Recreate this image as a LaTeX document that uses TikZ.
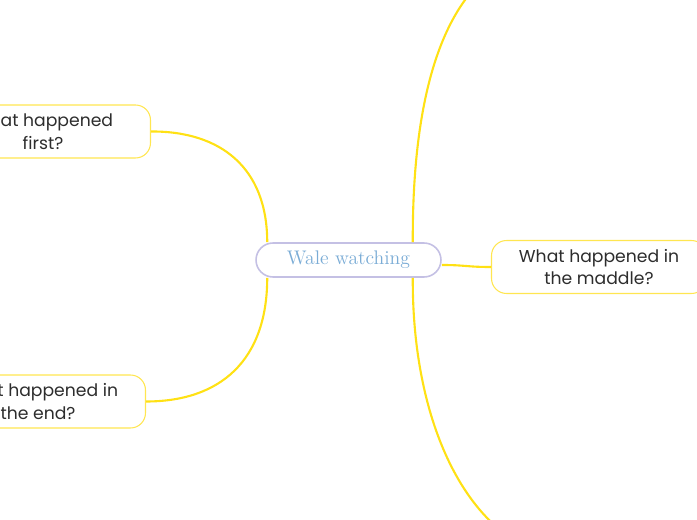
\documentclass[tikz,border=0pt]{standalone}
\usepackage{fontspec}
\newfontfamily\topicfont{Poppins}
\definecolor{branchyellow}{RGB}{255,225,20}
\definecolor{boxyellow}{RGB}{255,230,80}
\definecolor{rootborder}{RGB}{196,192,228}
\definecolor{roottext}{RGB}{122,172,214}
\definecolor{topictext}{RGB}{45,45,45}
\begin{document}
\begin{tikzpicture}[
    x=0.02cm, y=-0.02cm,
    root/.style={rectangle, draw=rootborder, line width=0.9pt, fill=white, rounded corners=0.34cm, minimum width=3.7cm, minimum height=0.68cm, inner sep=0pt, text=roottext, font=\fontsize{11.2}{12}\selectfont},
    topic/.style={rectangle, draw=boxyellow, line width=0.6pt, fill=white, rounded corners=0.3cm, minimum width=4.3cm, minimum height=1.06cm, inner sep=0pt, align=center, text=topictext, font=\topicfont\fontsize{9.8}{13}\selectfont},
    branch/.style={draw=branchyellow, line width=1.2pt}
]
\useasboundingbox (0,0) rectangle (697,520);
\clip (0,0) rectangle (697,520);
% -------------------------
% Root and topics
% -------------------------
    \node[root] (wale) at (348.5,260) {\raisebox{-1pt}{Wale watching}};

    \node[topic] (first) at (43,131.5) {What happened\\first?};
    \node[topic] (middle) at (599,267) {What happened in\\the maddle?};
    \node[topic] (end) at (38,401.5) {What happened in\\the end?};

    % branches running off the page
    \coordinate (upper) at (560,-50);
    \coordinate (lower) at (580,560);

% -------------------------
% Branches
% -------------------------
    \draw[branch] ([xshift=0.24cm]wale.north west) .. controls +(0,-75) and (220,131) .. (first.east);
    \draw[branch] ([xshift=0.24cm]wale.south west) .. controls +(0,83) and (220,401.5) .. (end.east);
    \draw[branch] ([yshift=-0.1cm]wale.east) .. controls (466,265) and (466,267) .. (middle.west);
    \draw[branch] ([xshift=-0.58cm]wale.north east) .. controls (412,40) and (470,-50) .. (upper);
    \draw[branch] ([xshift=-0.58cm]wale.south east) .. controls (412,440) and (480,560) .. (lower);
\end{tikzpicture}
\end{document}
